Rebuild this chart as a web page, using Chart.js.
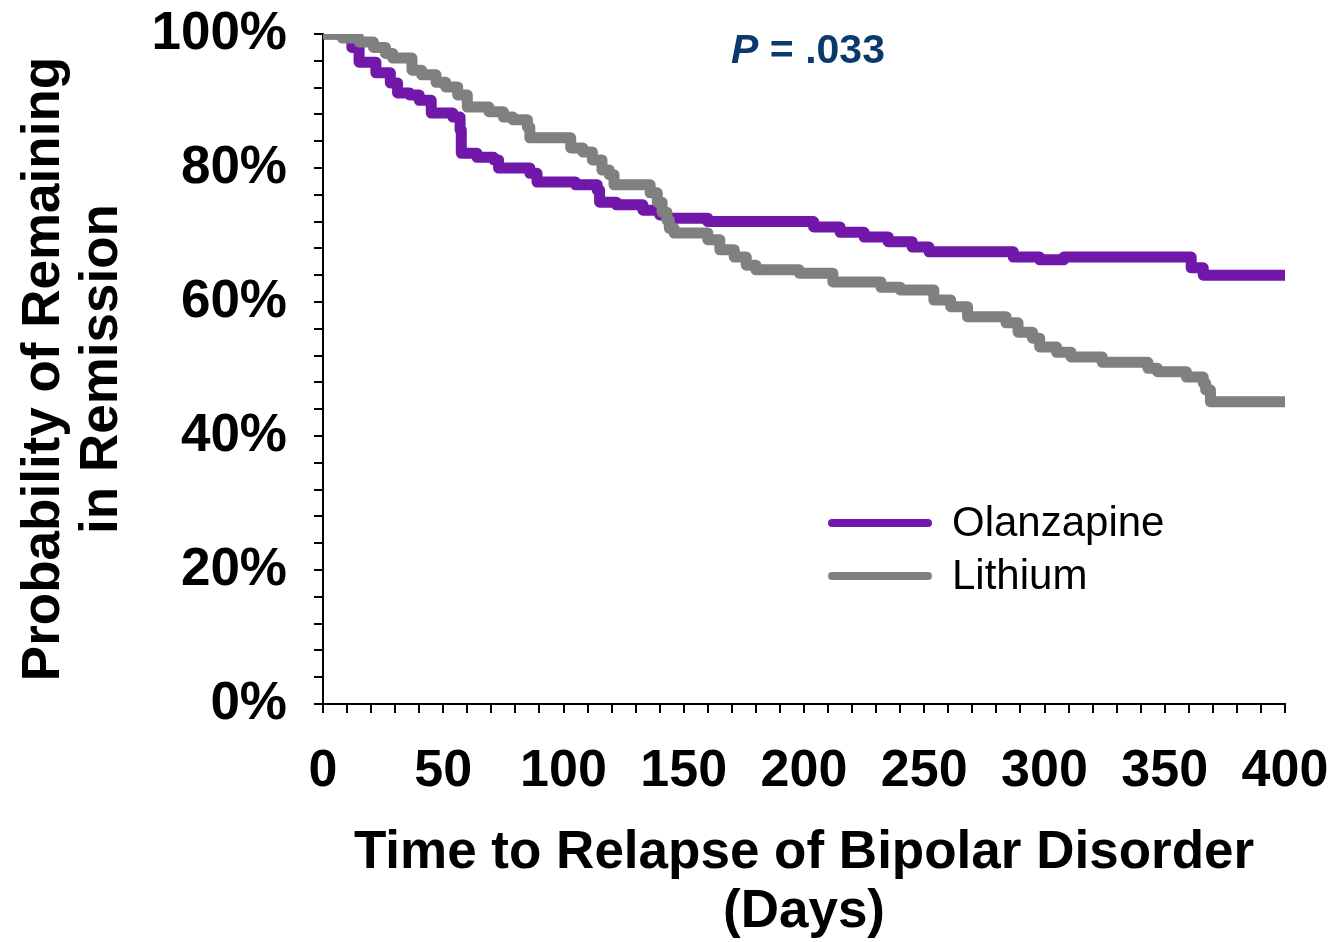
<!DOCTYPE html>
<html>
<head>
<meta charset="utf-8">
<script src="https://cdn.jsdelivr.net/npm/chart.js@4"></script>
<style>
  html, body { margin: 0; padding: 0; background: #fff; }
  #wrap { width: 1337px; height: 942px; }
</style>
</head>
<body>
<div id="wrap"><canvas id="km" width="1337" height="942"></canvas></div>
<script>
// Kaplan-Meier steps: day of drop, % remaining after it
var olzDays = [0, 12, 15, 22, 28, 31, 36, 40, 45, 54, 57, 57.5, 64, 71, 73, 86, 89, 105, 114, 115, 122, 133, 140, 143, 160, 204, 215, 225, 235, 245, 252, 287, 298, 308, 361, 366, 400];
var olzPct  = [100, 98, 95.8, 94.2, 92.7, 91.2, 90.9, 90.1, 88.2, 87.6, 85.7, 82.2, 81.6, 81.2, 80, 79.2, 77.9, 77.5, 76.7, 74.9, 74.5, 73.7, 73, 72.5, 72, 71.2, 70.4, 69.7, 69, 68.2, 67.5, 66.7, 66.3, 66.7, 65.1, 64, 64];

var liDays = [0, 8, 15, 21, 26, 29, 37, 41, 47, 51, 56, 60, 69, 75, 79, 85, 86, 103, 108, 112, 116, 119, 121, 136, 139, 141, 143, 144, 146, 160, 165, 171, 176, 180, 198, 212, 232, 240, 254, 261, 268, 284, 289, 295, 298, 305, 311, 324, 343, 347, 359, 366, 367, 369, 400];
var liPct  = [100, 99.4, 98.8, 98, 97.1, 96.4, 94.6, 93.9, 92.8, 92.1, 90.9, 89.1, 88.4, 87.6, 87.2, 86.1, 84.5, 83, 82.4, 81.2, 79.7, 79, 77.5, 76.3, 74.9, 73.4, 72.2, 71, 70.3, 69.3, 67.8, 66.7, 65.5, 64.8, 64.3, 63, 62.2, 61.8, 60.3, 59.3, 57.8, 56.9, 55.5, 54.6, 53.3, 52.5, 51.8, 51, 50.1, 49.6, 48.8, 47.9, 46.9, 45.1, 45.1];

var seriesNames = ['Olanzapine', 'Lithium'];
var seriesColors = ['#7117aa', '#808080'];
var pValueText = '.033';

function toPoints(days, pct) {
    return days.map(function(d, i) { return {x: d, y: pct[i]}; });
}

var FONT = "'Liberation Sans', Arial, sans-serif";

// legend + p value drawn inside the plot
var overlay = {
    id: 'overlay',
    afterDraw: function(chart) {
        var ctx = chart.ctx;
        ctx.save();
        // p value
        ctx.fillStyle = '#0a3a6b';
        ctx.textBaseline = 'middle';
        ctx.textAlign = 'left';
        ctx.font = 'italic bold 41px ' + FONT;
        var pw = ctx.measureText('P').width;
        ctx.font = 'bold 41px ' + FONT;
        var rest = ' = ' + pValueText;
        var rw = ctx.measureText(rest).width;
        var px = 808 - (pw + rw) / 2;
        ctx.font = 'italic bold 41px ' + FONT;
        ctx.fillText('P', px, 52);
        ctx.font = 'bold 41px ' + FONT;
        ctx.fillText(rest, px + pw, 52);

        // legend
        ctx.lineCap = 'round';
        ctx.lineWidth = 8;
        ctx.font = '42px ' + FONT;
        ctx.fillStyle = '#000';
        for (var i = 0; i < seriesNames.length; i++) {
            var y = 523 + i * 53;
            ctx.strokeStyle = seriesColors[i];
            ctx.beginPath();
            ctx.moveTo(832, y);
            ctx.lineTo(928, y);
            ctx.stroke();
            ctx.fillText(seriesNames[i], 952, y + 1);
        }
        ctx.restore();
    }
};

// fixed axis boxes, no extra label padding so the plot area lands where the original has it
function fitX(s) {
    s.height = 238;
    s.paddingLeft = 0; s.paddingRight = 0;
}
function fitY(s) {
    s.width = 323;
    s.paddingTop = 0; s.paddingBottom = 0;
}

var ctx = document.getElementById('km').getContext('2d');
var chart = new Chart(ctx, {
    type: 'line',
    data: {
        datasets: [{
            label: seriesNames[0],
            data: toPoints(olzDays, olzPct),
            borderColor: seriesColors[0],
            order: 2
        }, {
            label: seriesNames[1],
            data: toPoints(liDays, liPct),
            borderColor: seriesColors[1],
            order: 1
        }]
    },
    options: {
        responsive: false,
        animation: false,
        layout: { padding: { top: 34, right: 52, left: 0, bottom: 0 } },
        elements: {
            line: { borderWidth: 11, stepped: 'before', borderCapStyle: 'round', borderJoinStyle: 'round', fill: false },
            point: { radius: 0 }
        },
        plugins: {
            legend: { display: false },
            tooltip: { enabled: false }
        },
        scales: {
            x: {
                type: 'linear',
                min: 0,
                max: 400,
                afterFit: fitX,
                border: { display: true, color: '#000', width: 2 },
                grid: { drawOnChartArea: false, drawTicks: true, tickLength: 9, color: '#000', lineWidth: 2 },
                ticks: {
                    stepSize: 10,
                    autoSkip: false,
                    maxRotation: 0,
                    padding: 33,
                    color: '#000',
                    font: { family: FONT, size: 52, weight: 'bold', lineHeight: 1 },
                    callback: function(v) { return Math.round(v) % 50 === 0 ? String(v) : ''; }
                },
                title: {
                    display: true,
                    text: ['Time to Relapse of Bipolar Disorder', '(Days)'],
                    color: '#000',
                    font: { family: FONT, size: 53, weight: 'bold', lineHeight: 1.12 },
                    padding: { top: 0, bottom: 0 }
                }
            },
            y: {
                min: 0,
                max: 100,
                afterFit: fitY,
                border: { display: true, color: '#000', width: 2 },
                grid: { drawOnChartArea: false, drawTicks: true, tickLength: 9, color: '#000', lineWidth: 2 },
                ticks: {
                    stepSize: 4,
                    autoSkip: false,
                    padding: 27,
                    color: '#000',
                    font: { family: FONT, size: 53, weight: 'bold', lineHeight: 1 },
                    callback: function(v) { return Math.round(v) % 20 === 0 ? Math.round(v) + '%' : ''; }
                },
                title: {
                    display: true,
                    text: ['Probability of Remaining', 'in Remission'],
                    color: '#000',
                    font: { family: FONT, size: 53, weight: 'bold', lineHeight: 1.1 },
                    padding: { top: 15, bottom: 0 }
                }
            }
        }
    },
    plugins: [overlay]
});
</script>
</body>
</html>
